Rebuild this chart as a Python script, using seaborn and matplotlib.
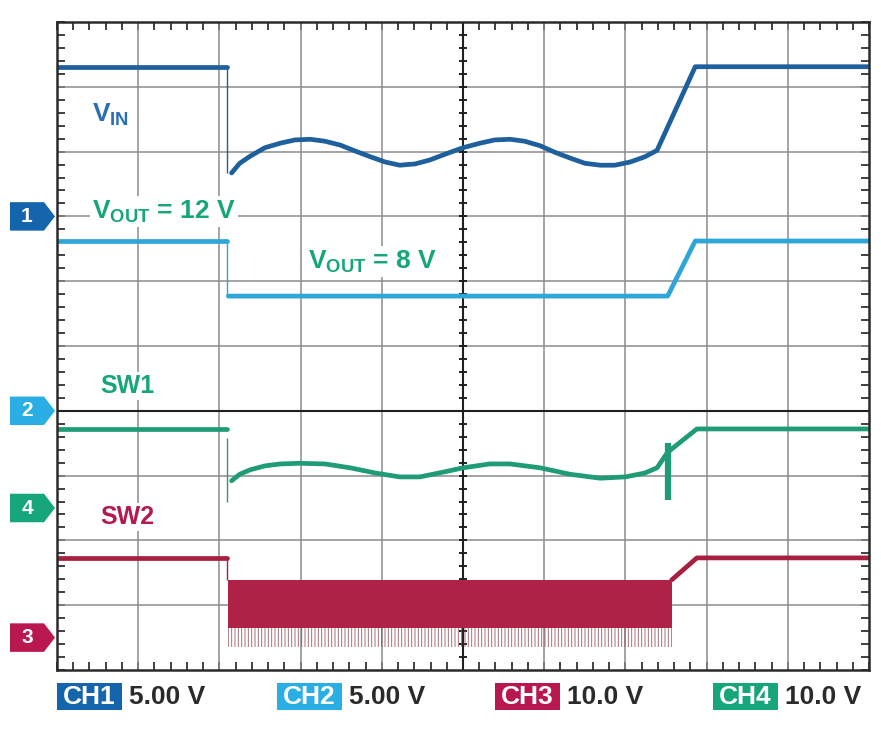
import matplotlib
matplotlib.use('Agg')
import matplotlib.pyplot as plt
import matplotlib.transforms as mtrans
from matplotlib.patches import Polygon, Rectangle
import numpy as np
import seaborn as sns

# ── Data (screen divisions: x 0..10, y 0..10 from bottom) ───────────────────
t_fall = 2.09

# CH1: V_IN
vin_pre_t = [0.0, 2.09]
vin_pre_v = [9.31, 9.31]
vin_t = [2.15, 2.25, 2.38, 2.56, 2.75, 2.93, 3.12, 3.30, 3.49, 3.67, 3.86, 4.04,
         4.22, 4.41, 4.59, 4.78, 5.00, 5.21, 5.39, 5.58, 5.76, 5.95, 6.13, 6.32,
         6.50, 6.69, 6.87, 7.06, 7.24, 7.39, 7.86, 10.0]
vin_v = [7.67, 7.82, 7.93, 8.06, 8.13, 8.18, 8.19, 8.16, 8.10, 8.01, 7.92, 7.84,
         7.79, 7.81, 7.87, 7.96, 8.06, 8.13, 8.18, 8.19, 8.16, 8.09, 7.99, 7.90,
         7.82, 7.79, 7.79, 7.84, 7.92, 8.02, 9.31, 9.31]

# CH2: V_OUT
vout_pre_t = [0.0, 2.09]
vout_pre_v = [6.62, 6.62]
vout_t = [2.11, 7.52, 7.86, 10.0]
vout_v = [5.77, 5.77, 6.62, 6.62]

# CH4: SW1
sw1_pre_t = [0.0, 2.09]
sw1_pre_v = [3.72, 3.72]
sw1_t = [2.15, 2.25, 2.38, 2.56, 2.75, 2.99, 3.30, 3.61, 3.92, 4.22, 4.47, 4.78,
         5.00, 5.33, 5.58, 5.95, 6.32, 6.69, 7.00, 7.24, 7.39, 7.52, 7.88, 10.0]
sw1_v = [2.92, 3.02, 3.09, 3.15, 3.18, 3.19, 3.18, 3.12, 3.04, 2.98, 2.98, 3.06,
         3.12, 3.18, 3.18, 3.12, 3.02, 2.96, 2.98, 3.04, 3.12, 3.36, 3.72, 3.72]
sw1_fall_spike = [2.59, 3.58]
sw1_rise_spike_t = 7.52
sw1_rise_spike = [2.62, 3.50]

# CH3: SW2
sw2_pre_t = [0.0, 2.09]
sw2_pre_v = [1.73, 1.73]
sw2_band_t = [2.11, 7.57]
sw2_band_top = [1.39, 1.39]
sw2_band_bot = [0.65, 0.65]
sw2_spike_bot = [0.35, 0.35]
sw2_post_t = [7.57, 7.88, 10.0]
sw2_post_v = [1.39, 1.73, 1.73]

# channel markers, labels
ch_names = ['CH1', 'CH2', 'CH3', 'CH4']
ch_scales = ['5.00 V', '5.00 V', '10.0 V', '10.0 V']
ch_levels = [7.0, 4.0, 0.5, 2.5]
ch_colors = ['#1565ad', '#2aaee4', '#b8184f', '#17a57b']
trace_colors = ['#1e5f9e', '#2ea6da', '#a8203f', '#1f9c77']

# ── Chart ───────────────────────────────────────────────────────────────────
sns.set_style('white')
plt.rcParams['font.family'] = ['Liberation Sans', 'DejaVu Sans']
plt.rcParams['mathtext.fontset'] = 'custom'
plt.rcParams['mathtext.rm'] = 'Liberation Sans:bold'
plt.rcParams['mathtext.bf'] = 'Liberation Sans:bold'
plt.rcParams['hatch.linewidth'] = 0.7

fig = plt.figure(figsize=(8.81, 7.34), dpi=100)
W, H = 881, 734
ax = fig.add_axes([57 / W, 64 / H, 812 / W, 648 / H])
ax.set_xlim(0, 10)
ax.set_ylim(0, 10)

# graticule
for k in range(1, 10):
    if k != 5:
        ax.axvline(k, color='#8c8c8c', lw=1.1, zorder=1)
    if k != 4:
        ax.axhline(k, color='#8c8c8c', lw=1.1, zorder=1)
ax.axvline(5, color='#202020', lw=1.5, zorder=1)
ax.axhline(4, color='#202020', lw=1.5, zorder=1)
cy = np.arange(0.2, 10, 0.2)
ax.plot([5] * len(cy), cy, ls='none', marker='_', ms=6, mew=1.4, color='#202020', zorder=1)

ax.set_xticks(np.arange(0, 10.01, 0.2), minor=True)
ax.set_yticks(np.arange(0, 10.01, 0.2), minor=True)
ax.set_xticks([])
ax.set_yticks([])
ax.tick_params(which='minor', direction='in', length=6, width=1.3, color='#303030',
               top=True, bottom=True, left=True, right=True,
               labelbottom=False, labelleft=False)
for sp in ax.spines.values():
    sp.set_color('#2a2a2a')
    sp.set_linewidth(1.8)

LW = 3.4
kw = dict(ax=ax, estimator=None, sort=False, legend=False)

# VIN
sns.lineplot(x=vin_pre_t, y=vin_pre_v, color=trace_colors[0], lw=LW, **kw)
sns.lineplot(x=vin_t, y=vin_v, color=trace_colors[0], lw=LW, **kw)
ax.vlines(t_fall, vin_v[0], vin_pre_v[-1], color=trace_colors[0], lw=1.0)

# VOUT
sns.lineplot(x=vout_pre_t, y=vout_pre_v, color=trace_colors[1], lw=LW, **kw)
sns.lineplot(x=vout_t, y=vout_v, color=trace_colors[1], lw=LW, **kw)
ax.vlines(t_fall, vout_v[0], vout_pre_v[-1], color=trace_colors[1], lw=1.0)

# SW1
sns.lineplot(x=sw1_pre_t, y=sw1_pre_v, color=trace_colors[3], lw=LW, **kw)
sns.lineplot(x=sw1_t, y=sw1_v, color=trace_colors[3], lw=LW, **kw)
ax.vlines(t_fall, sw1_fall_spike[0], sw1_fall_spike[1], color='#3f8f78', lw=1.0)
ax.vlines(sw1_rise_spike_t, sw1_rise_spike[0], sw1_rise_spike[1],
          color=trace_colors[3], lw=4.5)

# SW2
sns.lineplot(x=sw2_pre_t, y=sw2_pre_v, color=trace_colors[2], lw=LW, **kw)
ax.vlines(t_fall, sw2_band_top[0], sw2_pre_v[-1], color=trace_colors[2], lw=1.0)
ax.fill_between(sw2_band_t, sw2_spike_bot, sw2_band_bot, facecolor='none',
                edgecolor='#8e4a58', hatch='|||||', lw=0, alpha=0.8, zorder=2)
ax.fill_between(sw2_band_t, sw2_band_bot, sw2_band_top, color='#ad2245',
                lw=0, zorder=3)
sns.lineplot(x=sw2_post_t, y=sw2_post_v, color=trace_colors[2], lw=LW, **kw)

# annotations
bb = dict(facecolor='white', edgecolor='none', pad=1.5)
ax.text(0.43, 8.46, r'$\mathrm{V}_\mathrm{IN}$', color='#2a6fb6', fontsize=19,
        fontweight='bold', bbox=bb, zorder=4)
ax.text(0.43, 6.97, r'$\mathrm{V}_\mathrm{OUT}$ = 12 V', color='#17a67a', fontsize=19,
        fontweight='bold', bbox=bb, zorder=4)
ax.text(3.09, 6.20, r'$\mathrm{V}_\mathrm{OUT}$ = 8 V', color='#17a67a', fontsize=19,
        fontweight='bold', bbox=bb, zorder=4)
ax.text(0.53, 4.27, 'SW1', color='#17a67a', fontsize=18, fontweight='bold',
        bbox=bb, zorder=4)
ax.text(0.53, 2.25, 'SW2', color='#b31a4f', fontsize=18, fontweight='bold',
        bbox=bb, zorder=4)

# channel level markers on the left
tr = mtrans.blended_transform_factory(fig.transFigure, ax.transData)
hh = 0.22
for num, lev, col in zip(['1', '2', '3', '4'], ch_levels, ch_colors):
    pts = [(10 / W, lev - hh), (44 / W, lev - hh), (55 / W, lev),
           (44 / W, lev + hh), (10 / W, lev + hh)]
    ax.add_patch(Polygon(pts, closed=True, transform=tr, facecolor=col,
                         edgecolor='none', clip_on=False))
    ax.text(27 / W, lev, num, transform=tr, color='white', fontsize=15,
            fontweight='bold', ha='center', va='center', clip_on=False)

# channel scale labels at the bottom
box_x = [57, 277, 495, 713]
for x0, name, scale, col in zip(box_x, ch_names, ch_scales, ch_colors):
    fig.patches.append(Rectangle((x0 / W, 1 - 710 / H), 65 / W, 27 / H,
                                 transform=fig.transFigure, facecolor=col,
                                 edgecolor='none'))
    fig.text((x0 + 32.5) / W, 1 - 697 / H, name, color='white', fontsize=19,
             fontweight='bold', ha='center', va='center')
    fig.text((x0 + 72) / W, 1 - 697 / H, scale, color='#2a2a2a', fontsize=19,
             fontweight='bold', ha='left', va='center')

fig.savefig('out.png', dpi=100)
plt.close(fig)
